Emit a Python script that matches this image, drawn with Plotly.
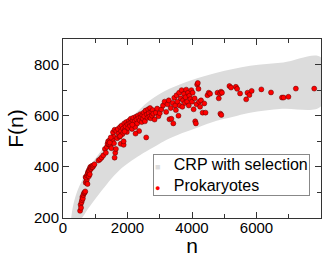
import plotly.graph_objects as go

# Band "CRP with selection": upper and lower edges (n, F)
band_upper_n = [250, 300, 420, 600, 775, 1136, 1550, 2066, 2700, 3300, 4000, 4765, 5800, 6830, 8000]
band_upper_F = [195, 240, 297, 350, 390, 455, 518, 585, 660, 705, 740, 768, 795, 808, 828]
band_lower_n = [8000, 6800, 5800, 5250, 4765, 4200, 3700, 3200, 2890, 2480, 1756, 1136, 800, 620, 480]
band_lower_F = [637, 627, 612, 595, 580, 555, 532, 505, 483, 453, 388, 297, 240, 206, 182]

# Prokaryotes: genome size n and F(n)
prok_n = [
    530, 545, 560, 575, 590, 600, 615, 630, 650, 670, 690, 705, 720, 740, 700, 720, 745, 760, 775, 790,
    805, 820, 835, 850, 865, 880, 900, 920, 945, 975, 760, 800, 830,
    1100, 1150, 1200, 1250, 1300, 1330, 1360, 1380, 1400, 1420, 1440, 1470, 1500, 1520, 1540, 1560, 1580, 1600,
    1620, 1640, 1450, 1480, 1550, 1600, 1650,
    1680, 1700, 1720, 1750, 1770, 1790, 1800, 1820, 1840, 1860, 1880, 1900, 1920, 1940, 1960, 1980, 2000,
    2020, 2040, 2060, 2080, 2100, 2120, 2140, 2160, 2180, 2200, 2220, 2240, 2260, 2280, 2300, 2320, 2340,
    2360, 2380, 2400, 2420, 2440, 2460, 2480, 2500, 2520, 2540, 2560, 2580, 2600, 2620, 2640, 2660, 2680,
    2700, 2720, 2740, 2760, 2780, 2800, 2840, 2880, 2920, 2960, 3000, 1770, 1880, 1910, 2150, 2250,
    3050, 3100, 3150, 3200, 3240, 3280, 3300, 3340, 3360, 3400, 3420, 3450, 3480, 3500, 3520, 3550, 3580,
    3600, 3620, 3650, 3680, 3700, 3720, 3750, 3780, 3800, 3820, 3850, 3880, 3900, 3920, 3950, 3980, 4000,
    4020, 4050, 4080, 4100, 4120, 4140, 4160, 4180, 4200, 4220, 4250, 4280, 4330, 4380, 4420, 4480, 4520, 4560,
    4790, 4830, 4870, 4900, 4930, 4880, 4910, 5160, 5210, 5360, 5400, 5490, 5680, 5720, 5780, 5850, 6150,
    6450, 6790, 6840, 6990, 7220, 7790,
]
prok_F = [
    228, 252, 240, 262, 270, 282, 276, 290, 297, 300, 304, 338, 344, 350, 360, 358, 366, 372, 380, 376,
    388, 384, 395, 400, 392, 398, 404, 399, 405, 410, 333, 363, 371,
    425, 430, 437, 445, 470, 455, 478, 490, 500, 488, 503, 485, 473, 497, 508, 520, 492, 436,
    455, 470, 495, 515, 535, 545, 540,
    512, 548, 530, 518, 556, 490, 540, 562, 528, 550, 486, 570, 545, 558, 575, 536, 566,
    552, 580, 570, 560, 588, 574, 548, 582, 592, 566, 578, 556, 596, 585, 570, 600, 590,
    540, 582, 606, 594, 575, 602, 588, 612, 598, 578, 620, 515, 605, 592, 625, 610, 596,
    630, 590, 615, 600, 622, 608, 585, 612, 628, 598, 610, 520, 500, 538, 565, 530,
    625, 640, 655, 615, 645, 660, 586, 630, 588, 650, 570, 670, 640, 622, 680, 655, 600,
    690, 640, 668, 700, 635, 660, 685, 650, 672, 702, 655, 690, 640, 678, 665, 700, 655,
    690, 625, 668, 578, 570, 645, 722, 728, 705, 655, 635, 660, 612, 648, 612, 680, 690, 686,
    690, 668, 687, 694, 690, 608, 603, 716, 710, 713, 705, 687, 664, 690, 681, 697, 703,
    691, 671, 671, 674, 706, 706,
]

series_names = ["CRP with selection", "Prokaryotes"]

band_n = band_upper_n + band_lower_n
band_F = band_upper_F + band_lower_F

FONT = "Liberation Sans, Arial, sans-serif"
BAND_COLOR = "#dcdcdc"
DOT_COLOR = "#ff0000"

fig = go.Figure()
fig.add_trace(go.Scatter(
    x=band_n, y=band_F, mode="lines", fill="toself",
    fillcolor=BAND_COLOR, line=dict(color=BAND_COLOR, width=0, shape="spline"),
    name=series_names[0], showlegend=False,
))
fig.add_trace(go.Scatter(
    x=prok_n, y=prok_F, mode="markers",
    marker=dict(color=DOT_COLOR, size=5, line=dict(color="#5a0000", width=0.5)),
    name=series_names[1], showlegend=False,
))

axis_common = dict(
    showline=True, linecolor="#333", linewidth=1, mirror="ticks",
    ticks="inside", ticklen=6, tickcolor="#333", tickwidth=1,
    showgrid=False, zeroline=False, automargin=False,
    tickfont=dict(family=FONT, size=15, color="black"),
)
fig.update_xaxes(
    range=[0, 8000], dtick=2000, tick0=0, ticklabelstandoff=-4,
    minor=dict(dtick=1000, ticks="inside", ticklen=4, tickcolor="#333"),
    title=dict(text="n", font=dict(family=FONT, size=21, color="black"), standoff=0),
    **axis_common,
)
fig.update_yaxes(
    range=[200, 900], dtick=200, tick0=200, ticklabelstandoff=0,
    minor=dict(dtick=100, ticks="inside", ticklen=4, tickcolor="#333"),
    title=dict(text="F(n)", font=dict(family=FONT, size=21, color="black"), standoff=4),
    **axis_common,
)

legend_text = (
    f'<span style="color:{BAND_COLOR};font-size:9px">■</span>&nbsp;&nbsp;&nbsp;{series_names[0]}<br>'
    f'<span style="color:{DOT_COLOR};font-size:9px">●</span>&nbsp;&nbsp;&nbsp;{series_names[1]}'
)
fig.add_annotation(
    xref="paper", yref="paper", x=0.957, y=0.36, xanchor="right", yanchor="top",
    text=legend_text, showarrow=False, align="left",
    font=dict(family=FONT, size=16, color="black"),
    bordercolor="#888", borderwidth=1, borderpad=1, bgcolor="white",
)

fig.update_layout(
    width=332, height=257,
    margin=dict(l=63, r=11, t=39, b=39),
    paper_bgcolor="white", plot_bgcolor="white",
    showlegend=False,
)
fig.write_html(
    "out.html",
    config={"displayModeBar": False},
    post_script="document.body.style.margin='0';document.body.style.overflow='hidden';",
)
